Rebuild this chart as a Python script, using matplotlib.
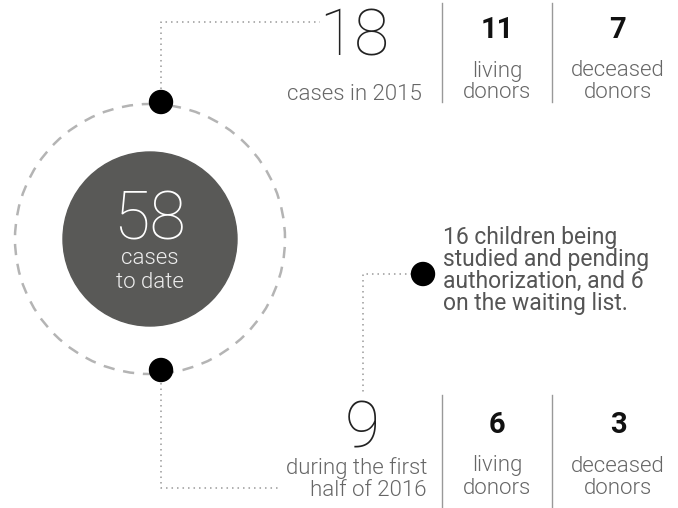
import matplotlib.pyplot as plt
from matplotlib.patches import Circle

# data
total_cases = "58"
total_label = ["cases", "to date"]
periods = ["cases in 2015", "during the first\nhalf of 2016"]
period_totals = ["18", "9"]
living_donors = ["11", "6"]
deceased_donors = ["7", "3"]
waiting_note = "16 children being\nstudied and pending\nauthorization, and 6\non the waiting list."

FONT = ["Roboto", "DejaVu Sans"]
GREY_TXT = "#666666"
DOT_GREY = "#9a9a9a"

fig = plt.figure(figsize=(6.78, 5.08), dpi=100)
ax = fig.add_axes([0, 0, 1, 1])
ax.set_xlim(0, 678)
ax.set_ylim(508, 0)
ax.axis("off")

# big circle + dashed orbit
ax.add_patch(Circle((150, 239), 87, color="#595957", zorder=2))
ax.add_patch(Circle((150, 239), 135, fill=False, ec="#b4b4b4", lw=1.8,
                    ls=(0, (4.5, 3.5)), zorder=1))
ax.text(150, 221, total_cases, ha="center", va="center", color="white",
        fontsize=48, fontweight=100, family=FONT, zorder=3)
ax.text(150, 258, total_label[0], ha="center", va="center", color="#eeeeee",
        fontsize=16, fontweight=300, family=FONT, zorder=3)
ax.text(150, 283, total_label[1], ha="center", va="center", color="#eeeeee",
        fontsize=16, fontweight=300, family=FONT, zorder=3)

# dotted connectors
dot_style = dict(color=DOT_GREY, lw=1.1, ls=(0, (1, 2.6)), zorder=1)
ax.plot([161, 161, 320], [100, 22, 22], **dot_style)
ax.plot([161, 161, 278], [372, 488, 488], **dot_style)
ax.plot([423, 363, 363], [274, 274, 392], **dot_style)

# black dots
for (x, y) in [(161, 102), (161, 370), (423, 274)]:
    ax.add_patch(Circle((x, y), 11.5, color="black", zorder=4))

# stat blocks (top: 2015, bottom: first half of 2016)
rows = [dict(num_y=38, lab_y=[71, 93], sep=(3, 102), big_x=354, lab_x=422),
        dict(num_y=429, lab_y=[466, 489], sep=(395, 508), big_x=362, lab_x=427)]
for i, r in enumerate(rows):
    ax.text(r["big_x"], r["num_y"], period_totals[i], ha="center", va="center",
            color="#222222", fontsize=46, fontweight=100, family=FONT)
    ax.text(r["lab_x"], r["lab_y"][1] + 7, periods[i], ha="right", va="baseline",
            color=GREY_TXT, fontsize=16, fontweight=300, family=FONT,
            linespacing=1.05)
    for sx in [442, 552]:
        ax.plot([sx, sx], list(r["sep"]), color="#999999", lw=1)
    for cx, val, words in [(497, living_donors[i], ["living", "donors"]),
                           (618, deceased_donors[i], ["deceased", "donors"])]:
        ax.text(cx, r["num_y"] - 8 if i == 0 else r["num_y"] - 4, val,
                ha="center", va="center", color="#111111", fontsize=21,
                fontweight="bold", family=FONT)
        for wy, w in zip(r["lab_y"], words):
            ax.text(cx, wy, w, ha="center", va="center", color=GREY_TXT,
                    fontsize=16, fontweight=300, family=FONT)

ax.text(443, 226, waiting_note, ha="left", va="top", color="#555555",
        fontsize=16.5, fontweight="normal", family=FONT, linespacing=0.95)

fig.savefig("out.png", dpi=100, facecolor="white")
